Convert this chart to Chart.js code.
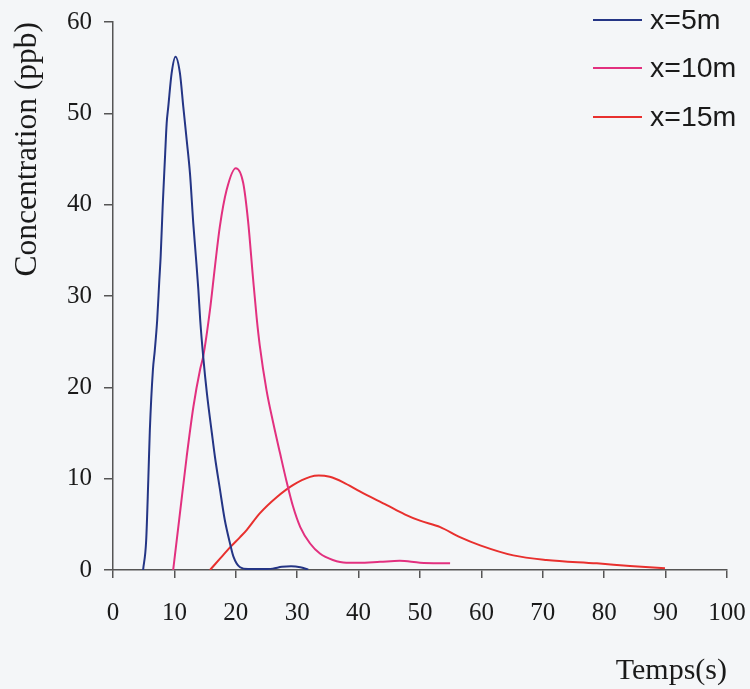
<!DOCTYPE html>
<html>
<head>
<meta charset="utf-8">
<script src="https://cdn.jsdelivr.net/npm/chart.js@4/dist/chart.umd.min.js"></script>
<style>
  html, body { margin: 0; padding: 0; background: #f4f6f8; }
  #wrap { position: relative; width: 750px; height: 689px; }
</style>
</head>
<body>
<div id="wrap"><canvas id="c" width="750" height="689"></canvas></div>
<script>
// ---- data ----
const seriesLabels = ["x=5m", "x=10m", "x=15m"];

const blueX = [4.9, 5.4, 5.75, 6.0, 6.5, 6.8, 7.2, 7.55, 7.76, 8.09, 8.47, 8.74, 9.0, 9.55, 10.18, 10.9, 11.45, 12.0, 12.54, 13.08, 13.5, 13.9, 14.2, 14.7, 15.3, 16.1, 16.6, 17.4, 18.2, 19.1, 19.6, 20.7, 22.0, 24.0, 26.0, 27.5, 29.0, 30.5, 31.8];
const blueY = [0, 3.2, 9.9, 15.3, 21.9, 24.0, 27.4, 31.8, 34.3, 39.8, 45.2, 48.9, 50.7, 54.4, 56.2, 54.4, 50.7, 47.1, 43.4, 37.9, 34.3, 30.7, 27.4, 23.3, 19.3, 15.0, 12.4, 8.9, 5.5, 2.8, 1.5, 0.3, 0.1, 0.1, 0.15, 0.35, 0.4, 0.3, 0.05];

const pinkX = [9.8, 10.9, 12.0, 13.1, 14.2, 14.7, 15.8, 16.6, 17.4, 18.5, 20.0, 21.2, 22.0, 22.8, 23.4, 23.9, 25.0, 26.1, 27.2, 28.3, 29.3, 30.5, 32.1, 33.7, 35.8, 38.0, 40.0, 43.5, 46.7, 50.0, 54.9];
const pinkY = [0, 6.2, 12.4, 17.9, 22.0, 23.4, 28.5, 33.2, 37.6, 41.6, 44, 42.4, 38.2, 32.0, 27.6, 24.6, 19.7, 16.1, 12.8, 9.6, 7.0, 4.7, 2.9, 1.8, 1.1, 0.8, 0.8, 0.9, 1.0, 0.8, 0.73];

const redX = [15.8, 17.5, 19.1, 20.7, 21.8, 23.9, 26.7, 29.3, 32.1, 33.5, 35.3, 37.5, 40.2, 44.6, 47.5, 50.0, 53.3, 56.5, 59.8, 65.2, 70.6, 78.8, 84.2, 89.9];
const redY = [0, 1.3, 2.5, 3.6, 4.4, 6.2, 8.0, 9.3, 10.2, 10.35, 10.2, 9.6, 8.6, 7.1, 6.1, 5.4, 4.7, 3.6, 2.7, 1.6, 1.1, 0.73, 0.44, 0.18];

const xTicks = [0, 10, 20, 30, 40, 50, 60, 70, 80, 90, 100];
const yTicks = [0, 10, 20, 30, 40, 50, 60];

const seriesColors = ["#243585", "#e2307f", "#e8302e"];

function pts(xs, ys) { return xs.map((x, i) => ({ x: x, y: ys[i] })); }

const bgPlugin = {
  id: 'bg',
  beforeDraw(chart) {
    const ctx = chart.ctx;
    ctx.save();
    ctx.fillStyle = '#f4f6f8';
    ctx.fillRect(0, 0, chart.width, chart.height);
    ctx.restore();
  }
};

const legendPlugin = {
  id: 'customLegend',
  afterDraw(chart) {
    const ctx = chart.ctx;
    const ys = [20, 68, 117];
    ctx.save();
    chart.data.datasets.forEach((ds, i) => {
      ctx.strokeStyle = ds.borderColor;
      ctx.lineWidth = 2;
      ctx.beginPath();
      ctx.moveTo(593, ys[i]);
      ctx.lineTo(642, ys[i]);
      ctx.stroke();
      ctx.fillStyle = '#1a1a1a';
      ctx.font = '28.5px "Liberation Sans", Arial, sans-serif';
      ctx.textBaseline = 'middle';
      ctx.textAlign = 'left';
      ctx.fillText(ds.label, 650, ys[i] + 1);
    });
    ctx.restore();
  }
};

const axisColor = '#555555';
const serif = '"Liberation Serif", "Times New Roman", serif';

new Chart(document.getElementById('c'), {
  type: 'line',
  data: {
    datasets: [
      { label: seriesLabels[0], data: pts(blueX, blueY), borderColor: seriesColors[0] },
      { label: seriesLabels[1], data: pts(pinkX, pinkY), borderColor: seriesColors[1] },
      { label: seriesLabels[2], data: pts(redX, redY), borderColor: seriesColors[2] }
    ].map(d => Object.assign(d, {
      borderWidth: 2,
      pointRadius: 0,
      fill: false,
      cubicInterpolationMode: 'monotone'
    }))
  },
  options: {
    responsive: false,
    animation: false,
    devicePixelRatio: 1,
    layout: { padding: { left: 0, right: 23, top: 22, bottom: 0 } },
    plugins: { legend: { display: false }, tooltip: { enabled: false } },
    scales: {
      x: {
        type: 'linear',
        min: 0, max: 100,
        afterBuildTicks(scale) { scale.ticks = xTicks.map(v => ({ value: v })); },
        afterFit(scale) { scale.height = 119; scale.paddingLeft = 0; scale.paddingRight = 0; },
        grid: { drawOnChartArea: false, drawTicks: true, tickLength: 8, color: axisColor, lineWidth: 1.5 },
        border: { display: true, color: axisColor, width: 1.5 },
        ticks: { color: '#1a1a1a', font: { family: serif, size: 25 }, padding: 20, maxRotation: 0 },
        title: { display: true, text: 'Temps(s)', align: 'end', color: '#1a1a1a',
                 font: { family: serif, size: 30 }, padding: { top: 0, bottom: 0 } }
      },
      y: {
        type: 'linear',
        min: 0, max: 60,
        afterBuildTicks(scale) { scale.ticks = yTicks.map(v => ({ value: v })); },
        afterFit(scale) { scale.width = 113; scale.paddingTop = 0; scale.paddingBottom = 0; },
        grid: { drawOnChartArea: false, drawTicks: true, tickLength: 9, color: axisColor, lineWidth: 1.5 },
        border: { display: true, color: axisColor, width: 1.5 },
        ticks: { color: '#1a1a1a', font: { family: serif, size: 25 }, padding: 12 },
        title: { display: true, text: 'Concentration (ppb)', align: 'end', color: '#1a1a1a',
                 font: { family: serif, size: 31.5 }, padding: { top: 9, bottom: 0 } }
      }
    }
  },
  plugins: [bgPlugin, legendPlugin]
});
</script>
</body>
</html>
